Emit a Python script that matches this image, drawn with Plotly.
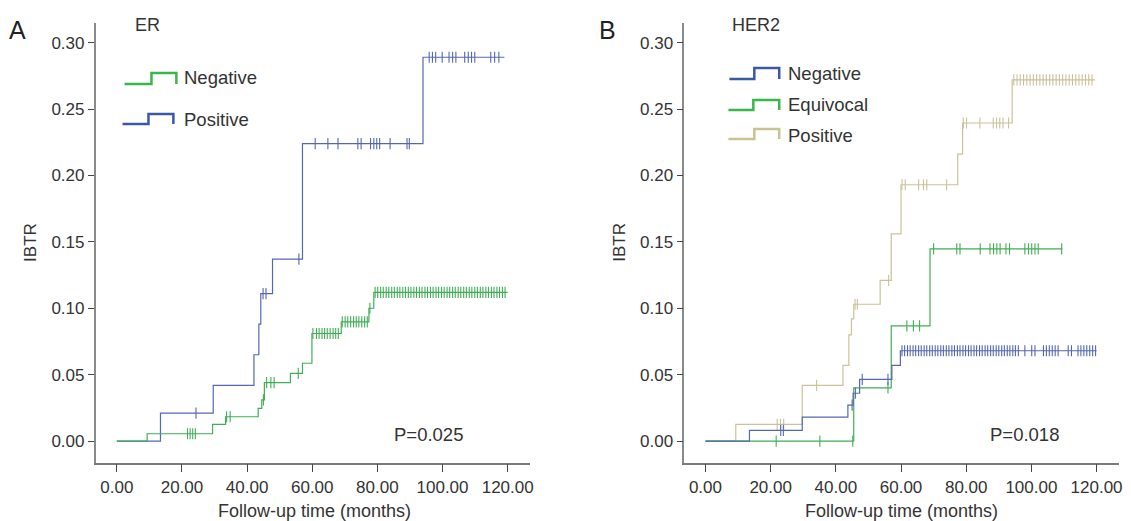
import plotly.graph_objects as go
import numpy as np

W, H = 1131, 521

# ---------------- DATA ----------------
# Panel A (ER)
a_pos_times = [0, 13.4, 29.6, 42.1, 43.6, 44.2, 47.8, 57.0, 94.0, 119.0]
a_pos_vals = [0, 0.021, 0.042, 0.065, 0.088, 0.111, 0.137, 0.224, 0.289, 0.289]
a_pos_cens = [24.3, 44.9, 45.8, 55.9, 60.9, 64.8, 67.9, 74.0, 75.0, 77.9, 78.9, 79.8, 80.7,
              83.9, 89.1, 89.8, 95.9, 96.9, 97.9, 99.9, 102.0, 103.1, 104.1, 106.8, 107.9,
              108.9, 109.9, 114.8, 116.0, 117.3]

a_neg_times = [0, 9.3, 29.4, 33.4, 43.4, 44.5, 45.3, 53.3, 57.0, 59.9, 68.9, 77.4, 78.9, 120.0]
a_neg_vals = [0, 0.0055, 0.0126, 0.0183, 0.0246, 0.031, 0.044, 0.051, 0.0586, 0.081,
              0.0897, 0.100, 0.112, 0.112]
a_neg_cens = [21.7, 22.5, 23.3, 24.1, 33.7, 34.8, 45.0, 46.0, 47.3, 48.3, 55.7,
              60.2, 61.3, 62.1, 63.0, 63.8, 64.6, 65.5, 66.4, 67.2, 68.0,
              69.2, 70.1, 70.9, 71.8, 72.7, 73.5, 74.3, 75.2, 76.1, 76.9, 77.7,
              79.3, 80.1, 81.0, 81.8, 82.7, 83.5, 84.4, 85.2, 86.1, 86.9, 87.8, 88.6,
              89.5, 90.3, 91.2, 92.0, 92.9, 93.7, 94.6, 95.4, 96.3, 97.1, 98.0, 98.8,
              99.7, 100.5, 101.4, 102.2, 103.1, 103.9, 104.8, 105.6, 106.5, 107.3, 108.2,
              109.0, 109.9, 110.7, 111.6, 112.4, 113.3, 114.1, 115.0, 115.8, 116.7,
              117.5, 118.4, 119.2]

# Panel B (HER2)
b_neg_times = [0, 13.5, 29.7, 43.7, 45.3, 47.3, 57.2, 59.8, 120.0]
b_neg_vals = [0, 0.008, 0.018, 0.027, 0.036, 0.0465, 0.057, 0.068, 0.068]
b_neg_cens = [23.1, 23.9, 45.0, 46.0, 48.1, 56.0,
              60.3, 61.1, 62.0, 62.8, 63.7, 64.5, 65.4, 66.2, 67.1, 67.9, 68.8, 69.6,
              70.5, 71.3, 72.2, 73.0, 73.9, 74.7, 75.6, 76.4, 77.3, 78.1, 79.0, 79.8,
              80.7, 81.5, 82.4, 83.2, 84.1, 84.9, 85.8, 86.6, 87.5, 88.3, 89.2, 90.0,
              90.9, 91.7, 92.6, 93.4, 94.3, 95.1, 96.0, 98.0, 100.1, 101.1, 103.7,
              104.6, 105.5, 106.4, 107.3, 108.2, 111.3, 112.3, 114.3, 115.2, 116.1,
              117.0, 117.9, 118.8, 119.7]

b_equ_times = [0, 45.5, 57.0, 68.9, 109.5]
b_equ_vals = [0, 0.040, 0.0867, 0.1447, 0.1447]
b_equ_cens = [21.7, 35.1, 45.2, 56.0, 61.8, 63.8, 65.7, 70.0, 77.1, 78.1, 84.3, 87.3,
              88.4, 89.4, 90.4, 92.2, 93.3, 98.0, 99.1, 100.1, 101.1, 102.1, 109.3]

b_pos_times = [0, 9.3, 29.7, 42.2, 44.0, 44.8, 45.5, 53.6, 57.0, 60.0, 77.4, 78.9, 94.1, 119.5]
b_pos_vals = [0, 0.0126, 0.042, 0.057, 0.080, 0.092, 0.103, 0.121, 0.156, 0.193, 0.216,
              0.2395, 0.272, 0.272]
b_pos_cens = [22.0, 23.0, 24.0, 34.1, 45.9, 46.6, 56.2, 60.3, 61.3, 65.4, 66.9, 67.9, 74.0,
              79.1, 80.1, 84.2, 88.3, 89.3, 90.3, 91.3, 93.0,
              94.6, 95.6, 96.6, 97.6, 98.6, 99.6, 100.6, 101.6, 102.6, 103.6, 104.6,
              105.6, 106.6, 107.6, 108.6, 109.6, 110.6, 111.6, 112.6, 113.6, 114.6,
              115.6, 116.6, 117.6, 118.6]

y_ticks = [0.00, 0.05, 0.10, 0.15, 0.20, 0.25, 0.30]
x_ticks = [0, 20, 40, 60, 80, 100, 120]

BLUE = "#5468b0"
GREEN = "#3fae55"
TAN = "#c9c29a"
BLUE_L = "#3a58a8"
GREEN_L = "#3cb54a"
TAN_L = "#c9c293"

FONT = "Liberation Sans, Arial, sans-serif"


def step_value(times, vals, t):
    idx = np.searchsorted(np.array(times), t, side="right") - 1
    return vals[max(idx, 0)]


fig = go.Figure()


def add_curve(times, vals, cens, color, xa, ya):
    fig.add_trace(go.Scatter(x=times, y=vals, mode="lines", line=dict(color=color, width=1.2, shape="hv"),
                             xaxis=xa, yaxis=ya, showlegend=False, hoverinfo="skip"))
    cy = [step_value(times, vals, t) for t in cens]
    fig.add_trace(go.Scatter(x=cens, y=cy, mode="markers",
                             marker=dict(symbol="line-ns-open", size=8, color=color,
                                         line=dict(color=color, width=1.1)),
                             xaxis=xa, yaxis=ya, showlegend=False, hoverinfo="skip"))


add_curve(a_pos_times, a_pos_vals, a_pos_cens, BLUE, "x", "y")
add_curve(a_neg_times, a_neg_vals, a_neg_cens, GREEN, "x", "y")
add_curve(b_pos_times, b_pos_vals, b_pos_cens, TAN, "x2", "y2")
add_curve(b_equ_times, b_equ_vals, b_equ_cens, GREEN, "x2", "y2")
add_curve(b_neg_times, b_neg_vals, b_neg_cens, BLUE, "x2", "y2")

AX = "#8a8a8a"
xcommon = dict(range=[-6.5, 126.8], tickvals=x_ticks, ticktext=[f"{v:.2f}" for v in x_ticks],
               showline=True, linecolor="#7a7a7a", linewidth=1.5, ticks="outside", ticklen=8,
               tickcolor="#444", tickwidth=1.3, showgrid=False, zeroline=False,
               tickfont=dict(family=FONT, size=17, color="#333"))
ycommon = dict(range=[-0.0163, 0.3148], tickvals=y_ticks, ticktext=[f"{v:.2f}" for v in y_ticks],
               showline=True, linecolor=AX, linewidth=1.5, ticks="outside", ticklen=6,
               tickcolor="#444", tickwidth=1.3, showgrid=False, zeroline=False,
               tickfont=dict(family=FONT, size=17, color="#333"), domain=[1 - 462.7 / H, 1 - 23 / H])

fig.update_layout(
    width=W, height=H, margin=dict(l=0, r=0, t=0, b=0),
    plot_bgcolor="white", paper_bgcolor="white",
    xaxis=dict(xcommon, domain=[96 / W, 531.7 / W], anchor="y"),
    yaxis=dict(ycommon, anchor="x"),
    xaxis2=dict(xcommon, domain=[686.7 / W, 1122.7 / W], anchor="y2"),
    yaxis2=dict(ycommon, anchor="x2"),
    showlegend=False,
)


def px(x):
    return x / W


def py(y):
    return 1 - y / H


def ann(text, x, y, size=16, xanchor="center", yanchor="middle", angle=0, color="#333"):
    fig.add_annotation(text=text, x=px(x), y=py(y), xref="paper", yref="paper", showarrow=False,
                       font=dict(family=FONT, size=size, color=color), xanchor=xanchor,
                       yanchor=yanchor, textangle=angle)


def legend_glyph(x0, ylow, yhigh, x1, xmid, color):
    path = (f"M {px(x0)} {py(ylow)} L {px(xmid)} {py(ylow)} L {px(xmid)} {py(yhigh)} "
            f"L {px(x1)} {py(yhigh)} L {px(x1)} {py(ylow)}")
    fig.add_shape(type="path", path=path, xref="paper", yref="paper",
                  line=dict(color=color, width=2.5))


# Panel letters and titles
ann("A", 18, 30, size=25, color="#222")
ann("B", 610, 30, size=25, color="#222")
ann("ER", 148, 25, size=18)
ann("HER2", 759, 25, size=18)

# Axis titles
ann("IBTR", 30, 242, size=17, angle=-90)
ann("IBTR", 621, 242, size=17, angle=-90)
ann("Follow-up time (months)", 316, 511, size=18)
ann("Follow-up time (months)", 905, 511, size=18)

# P values
ann("P=0.025", 430, 434, size=18.5)
ann("P=0.018", 1028, 434, size=18.5)

# Legend A
legend_glyph(125, 84, 73, 177, 152, GREEN_L)
ann("Negative", 183, 78, size=18.5, xanchor="left")
legend_glyph(123, 124, 114, 174, 149, BLUE_L)
ann("Positive", 183, 119, size=18.5, xanchor="left")

# Legend B
legend_glyph(732, 79, 68, 782, 757, BLUE_L)
ann("Negative", 789, 73, size=18.5, xanchor="left")
legend_glyph(731, 110, 100, 782, 756, GREEN_L)
ann("Equivocal", 789, 104, size=18.5, xanchor="left")
legend_glyph(731, 139, 129, 782, 757, TAN_L)
ann("Positive", 789, 135, size=18.5, xanchor="left")

fig.write_html("out.html", config={"displayModeBar": False},
               post_script="document.body.style.margin='0';document.body.style.overflow='hidden';")
